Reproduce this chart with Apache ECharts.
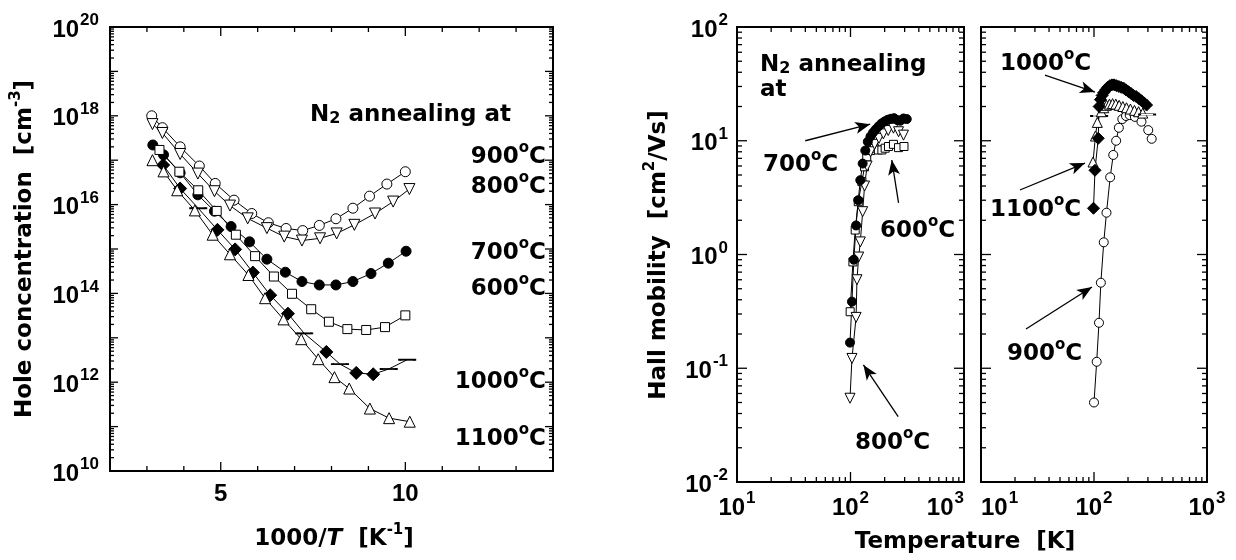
<!DOCTYPE html>
<html>
<head>
<meta charset="utf-8">
<title>Hole concentration and Hall mobility</title>
<script src="https://cdn.jsdelivr.net/npm/echarts@6.0.0/dist/echarts.min.js"></script>
<style>
html,body{margin:0;padding:0;background:#ffffff;}
#chart{width:1236px;height:560px;}
</style>
</head>
<body>
<div id="chart"></div>
<script>
// ===== Left panel: hole concentration [cm^-3] vs 1000/T [1/K] =====
const invT_900 = [3.13,3.42,3.90,4.42,4.85,5.36,5.84,6.29,6.77,7.22,7.67,8.12,8.58,9.03,9.50,10.00];
const hole_900 = [1.0e18,5.4e17,2.0e17,7.4e16,3.0e16,1.26e16,6.3e15,3.9e15,2.9e15,2.6e15,3.4e15,4.8e15,8.3e15,1.55e16,2.9e16,5.5e16];
const invT_800 = [3.15,3.42,3.90,4.38,4.83,5.25,5.73,6.25,6.72,7.20,7.69,8.14,8.62,9.18,9.67,10.11];
const hole_800 = [6.5e17,4.1e17,1.38e17,5.0e16,2.0e16,9.5e15,4.9e15,2.95e15,1.9e15,1.55e15,1.74e15,2.24e15,3.5e15,6.3e15,1.17e16,2.24e16];
const invT_700 = [3.16,3.45,3.90,4.38,4.83,5.28,5.78,6.25,6.75,7.20,7.67,8.12,8.58,9.07,9.54,10.02];
const hole_700 = [2.2e17,1.32e17,5.2e16,1.66e16,7.1e15,3.2e15,1.45e15,5.9e14,3.0e14,1.85e14,1.55e14,1.55e14,1.85e14,2.8e14,4.8e14,8.9e14];
const invT_600 = [3.34,3.88,4.39,4.89,5.41,5.93,6.44,6.93,7.45,7.93,8.43,8.94,9.45,10.00];
const hole_600 = [1.7e17,5.5e16,2.1e16,7.2e15,2.1e15,6.9e14,2.4e14,9.8e13,4.4e13,2.3e13,1.57e13,1.5e13,1.74e13,3.2e13];
const invT_1000 = [3.44,3.90,4.39,4.91,5.39,5.87,6.34,6.82,7.26,7.86,8.23,8.67,9.13,9.55,10.05];
const hole_1000 = [7.8e16,2.3e16,8.3e15,2.7e15,9.8e14,2.95e14,9.1e13,3.5e13,1.26e13,4.8e12,2.55e12,1.62e12,1.51e12,1.98e12,3.2e12];
const dashIdx_1000 = [2,8,10,13,14];
const invT_1100 = [3.15,3.45,3.82,4.30,4.78,5.25,5.75,6.20,6.70,7.18,7.64,8.08,8.48,9.04,9.56,10.12];
const hole_1100 = [1.0e17,5.6e16,2.1e16,7.4e15,2.1e15,7.6e14,2.6e14,7.8e13,2.6e13,9.3e12,3.3e12,1.3e12,7.2e11,2.55e11,1.55e11,1.29e11];

// ===== Right panels: Hall mobility [cm2/Vs] vs temperature [K] =====
const T_600 = [99.3,105,110,117,126,133,139,150,162,176,189,202,216,239,265,296];
const mu_600 = [0.314,0.86,1.64,2.91,4.37,5.9,7.2,8.2,8.6,8.3,8.3,8.6,8.9,9.3,8.7,8.9];
const T_700 = [99,103,107,112,117,122,128,135,142,150,158,167,177,188,200,213,227,242,258,275,293,313];
const mu_700 = [0.168,0.385,0.9,1.8,3.0,4.5,6.3,8.2,9.8,10.9,11.8,12.6,13.4,14.2,14.8,15.3,15.6,15.8,15.2,15.0,15.7,15.5];
const T_800 = [99,103,112,114,118,122,128,133,140,150,163,178,195,215,239,265,293];
const mu_800 = [0.0545,0.122,0.28,0.60,0.95,1.29,2.38,4.0,6.0,8.0,9.3,10.5,11.5,12.3,12.9,12.0,11.2];
const T_900 = [100,105.6,110.7,115,122,129,139,148,157,166,178,192,207,230,263,302,324];
const mu_900 = [0.05,0.114,0.251,0.565,1.28,2.33,4.77,7.5,10,13,15.5,16.5,16.8,16.2,14.7,12.4,10.4];
const T_1000 = [99,102,109,111,114,118,122,127,132,138,144,151,158,166,174,183,192,202,213,224,236,249,263,278,292];
const mu_1000 = [2.55,5.5,10.5,20,23,25,26.5,28,29.5,30.5,31,31,30.5,30,29.5,29,28,27,26,25,24.5,23.5,22.5,21.5,20.6];
const T_1100 = [98,103,107,111,116,122,129,137,146,156,167,180,194,210,228,248,270,295];
const mu_1100 = [6.5,11,14.5,16.5,18,19.5,20.5,21,21.2,21,20.5,20,19.5,19,18.5,18,17.5,17];
const dashIdx_1100 = [3,17];

// tick labels
const leftXTickLabels = [5, 10];
const leftYLabelExps = [10, 12, 14, 16, 18, 20];
const rightXLabelExps = [1, 2, 3];
const rightYLabelExps = [-2, -1, 0, 1, 2];

// annotation arrows (data coordinates: [T, mu])
const arrowsMid = [[[39.9,10],[149,14.0]], [[265,2.84],[231,6.77]], [[263,0.0375],[130,0.107]]];
const arrowsRight = [[[36.8,37.8],[102,26.8]], [[22.1,3.69],[83.2,6.37]], [[25,0.221],[96,0.518]]];

const FF = '"Liberation Sans", Arial, Helvetica, sans-serif';
const FW = '"DejaVu Sans", Verdana, sans-serif';
const chart = echarts.init(document.getElementById('chart'), null, {renderer: 'canvas'});

function pairs(xs, ys) { return xs.map((x, i) => [x, ys[i]]); }

function lineSeries(gi, xs, ys, symbol, filled, size, rotate) {
  return {
    type: 'line', xAxisIndex: gi, yAxisIndex: gi, data: pairs(xs, ys),
    symbol: symbol, symbolSize: size, symbolRotate: rotate || 0, showSymbol: true,
    lineStyle: {color: '#000', width: 1}, silent: true, z: 3,
    itemStyle: {color: filled ? '#000' : '#fff', borderColor: '#000', borderWidth: 1}
  };
}
function withDashes(s, idx) {
  s.data = s.data.map((p, i) => idx.includes(i) ? {value: p, symbol: 'rect', symbolSize: [15, 1.6], symbolRotate: 0} : p);
  return s;
}
function arrowLines(list) {
  return {
    silent: true, symbol: ['none', 'arrow'], symbolSize: [9, 15],
    lineStyle: {color: '#000', width: 1.3, type: 'solid'}, label: {show: false},
    emphasis: {disabled: true},
    data: list.map(a => [{coord: a[0]}, {coord: a[1]}])
  };
}

// tick marks (inward on all four sides) drawn through the axes' own scales
function tickSeries(gi, xTicks, yTicks, xRef, yRef) {
  return {
    type: 'custom', xAxisIndex: gi, yAxisIndex: gi, silent: true, z: 6, clip: false,
    data: [[xRef, yRef]],
    renderItem: function (params, api) {
      const cs = params.coordSys;
      const top = cs.y, bot = cs.y + cs.height, l = cs.x, r = cs.x + cs.width;
      const ch = [];
      const ln = (x1, y1, x2, y2) => ({type: 'line', shape: {x1, y1, x2, y2}, style: {stroke: '#000', lineWidth: 1.3}});
      xTicks.forEach(t => { const px = api.coord([t[0], yRef])[0]; ch.push(ln(px, bot, px, bot - t[1]), ln(px, top, px, top + t[1])); });
      yTicks.forEach(t => { const py = api.coord([xRef, t[0]])[1]; ch.push(ln(l, py, l + t[1], py), ln(r, py, r - t[1], py)); });
      return {type: 'group', children: ch};
    }
  };
}
const leftXT = [], leftYT = [], rightXT = [], rightYT = [];
for (let v = 3; v <= 13; v++) leftXT.push([v, v % 5 === 0 ? 9 : 5]);
for (let k = 10; k <= 19; k++) { if (k > 10) leftYT.push([Math.pow(10, k), 8]); for (let m = 2; m <= 9; m++) leftYT.push([m * Math.pow(10, k), 4]); }
for (let k = 1; k <= 2; k++) { if (k > 1) rightXT.push([Math.pow(10, k), 10]); for (let m = 2; m <= 9; m++) rightXT.push([m * Math.pow(10, k), 5]); }
for (let k = -2; k <= 1; k++) { if (k > -2) rightYT.push([Math.pow(10, k), 10]); for (let m = 2; m <= 9; m++) rightYT.push([m * Math.pow(10, k), 5]); }

const supRich = {
  b: {fontSize: 24, fontWeight: 'bold', fontFamily: FF, color: '#000', lineHeight: 30, verticalAlign: 'bottom'},
  s: {fontSize: 17, fontWeight: 'bold', fontFamily: FF, color: '#000', lineHeight: 30, verticalAlign: 'top', padding: [0, 0, 0, 1]}
};
function expLabel(list) {
  return v => { const e = Math.round(Math.log10(v)); return list.includes(e) ? '{b|10}{s|' + e + '}' : ''; };
}
function logAxisCommon(extra) {
  return Object.assign({
    type: 'log', logBase: 10,
    axisLine: {show: false}, axisTick: {show: false}, splitLine: {show: false}, minorTick: {show: false}
  }, extra);
}

const grids = [
  {left: 110, top: 27, width: 443, height: 444, show: true, borderColor: '#000', borderWidth: 2, backgroundColor: 'transparent'},
  {left: 737, top: 27, width: 227, height: 455, show: true, borderColor: '#000', borderWidth: 2, backgroundColor: 'transparent'},
  {left: 981, top: 27, width: 226, height: 455, show: true, borderColor: '#000', borderWidth: 2, backgroundColor: 'transparent'}
];

const xAxes = [
  {gridIndex: 0, type: 'value', min: 2, max: 14, interval: 1,
   axisLine: {show: false}, axisTick: {show: false}, splitLine: {show: false},
   axisLabel: {formatter: v => leftXTickLabels.includes(v) ? String(v) : '', fontSize: 24, fontWeight: 'bold', fontFamily: FF, color: '#000', margin: 11}},
  logAxisCommon({gridIndex: 1, min: 10, max: 1000, axisLabel: {formatter: expLabel(rightXLabelExps), rich: supRich, margin: 8, alignMaxLabel: 'right'}}),
  logAxisCommon({gridIndex: 2, min: 10, max: 1000, axisLabel: {formatter: expLabel(rightXLabelExps), rich: supRich, margin: 8, alignMinLabel: 'left'}})
];
const yAxes = [
  logAxisCommon({gridIndex: 0, min: 1e10, max: 1e20, interval: 2, axisLabel: {formatter: expLabel(leftYLabelExps), rich: supRich, margin: 11}}),
  logAxisCommon({gridIndex: 1, min: 0.01, max: 100, interval: 1, axisLabel: {formatter: expLabel(rightYLabelExps), rich: supRich, margin: 9}}),
  logAxisCommon({gridIndex: 2, min: 0.01, max: 100, interval: 1, axisLabel: {show: false}})
];

const s700L = lineSeries(0, invT_700, hole_700, 'circle', true, 10);
const s1000L = withDashes(lineSeries(0, invT_1000, hole_1000, 'diamond', true, 13), dashIdx_1000);
const s800R = lineSeries(1, T_800, mu_800, 'triangle', false, 10, 180);
s800R.markLine = arrowLines(arrowsMid);
const s900R = lineSeries(2, T_900, mu_900, 'circle', false, 9);
s900R.markLine = arrowLines(arrowsRight);
const s1100R = withDashes(lineSeries(2, T_1100, mu_1100, 'triangle', false, 10), dashIdx_1100);

const series = [
  lineSeries(0, invT_900, hole_900, 'circle', false, 10),
  lineSeries(0, invT_800, hole_800, 'triangle', false, 11, 180),
  s700L,
  lineSeries(0, invT_600, hole_600, 'rect', false, 9),
  s1000L,
  lineSeries(0, invT_1100, hole_1100, 'triangle', false, 11),
  lineSeries(1, T_600, mu_600, 'rect', false, 8),
  s800R,
  lineSeries(1, T_700, mu_700, 'circle', true, 9),
  s900R,
  s1100R,
  lineSeries(2, T_1000, mu_1000, 'diamond', true, 12),
  tickSeries(0, leftXT, leftYT, 2, 1e10),
  tickSeries(1, rightXT, rightYT, 10, 0.01),
  tickSeries(2, rightXT, rightYT, 10, 0.01)
];

const txtRich = {
  b: {fontSize: 23, fontWeight: 'bold', fontFamily: FW, fill: '#000', lineHeight: 28, verticalAlign: 'bottom'},
  i: {fontSize: 23, fontWeight: 'bold', fontStyle: 'italic', fontFamily: FW, fill: '#000', lineHeight: 28, verticalAlign: 'bottom'},
  s: {fontSize: 15, fontWeight: 'bold', fontFamily: FW, fill: '#000', lineHeight: 28, verticalAlign: 'top'},
  d: {fontSize: 16, fontWeight: 'bold', fontFamily: FW, fill: '#000', lineHeight: 25, verticalAlign: 'bottom'}
};
function T(x, y, text, align, rot) {
  return {type: 'text', x: x, y: y, rotation: rot || 0, z: 10, silent: true,
          style: {text: text, rich: txtRich, align: align || 'left', verticalAlign: 'middle', fill: '#000'}};
}
const deg = t => '{b|' + t + '}{s|o}{b|C}';

const graphic = [
  T(23, 249, '{b|Hole concentration  [cm}{s|-3}{b|]}', 'center', Math.PI / 2),
  T(334, 537, '{b|1000/}{i|T}{b|  [K}{s|-1}{b|]}', 'center'),
  T(310, 113, '{b|N}{d|2}{b| annealing at}', 'left'),
  T(546, 155, deg('900'), 'right'),
  T(546, 185, deg('800'), 'right'),
  T(546, 251, deg('700'), 'right'),
  T(546, 287, deg('600'), 'right'),
  T(546, 380, deg('1000'), 'right'),
  T(546, 437, deg('1100'), 'right'),
  T(657, 255, '{b|Hall mobility  [cm}{s|2}{b|/Vs]}', 'center', Math.PI / 2),
  T(965, 540, '{b|Temperature  [K]}', 'center'),
  T(760, 63, '{b|N}{d|2}{b| annealing}', 'left'),
  T(760, 88, '{b|at}', 'left'),
  T(763, 163, deg('700'), 'left'),
  T(880, 229, deg('600'), 'left'),
  T(855, 441, deg('800'), 'left'),
  T(1000, 62, deg('1000'), 'left'),
  T(990, 208, deg('1100'), 'left'),
  T(1007, 352, deg('900'), 'left')
];

chart.setOption({
  animation: false,
  backgroundColor: '#ffffff',
  grid: grids,
  xAxis: xAxes,
  yAxis: yAxes,
  series: series,
  graphic: graphic
});
</script>
</body>
</html>
